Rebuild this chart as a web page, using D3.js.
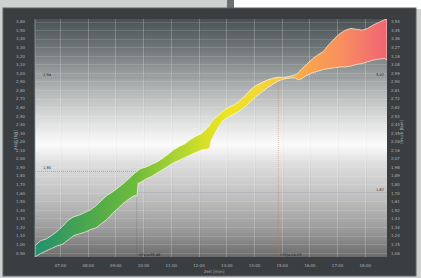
<!DOCTYPE html>
<html>
<head>
<meta charset="utf-8">
<script src="https://cdn.jsdelivr.net/npm/d3@7"></script>
<style>
  body { margin: 0; background: #cfd0d0; }
  svg { display: block; font-family: "DejaVu Sans", sans-serif; }
</style>
</head>
<body>
<div id="viz"></div>
<script>
// time in hours, band edges in kN
var times = [6.1, 6.3, 6.5, 6.7, 6.9, 7.1, 7.3, 7.5, 7.7, 7.9, 8.1, 8.3, 8.5, 8.7, 8.9,
  9.1, 9.3, 9.5, 9.7, 9.78, 9.82, 9.9, 10.1, 10.3, 10.5, 10.7, 10.9, 11.1, 11.3, 11.5,
  11.7, 11.9, 12.1, 12.3, 12.4, 12.45, 12.5, 12.7, 12.9, 13.1, 13.3, 13.5, 13.7, 13.9,
  14.1, 14.3, 14.5, 14.7, 14.9, 15.1, 15.3, 15.5, 15.6, 15.7, 15.9, 16.1, 16.3, 16.5,
  16.7, 16.9, 17.1, 17.3, 17.5, 17.7, 17.9, 18.1, 18.3, 18.5, 18.7, 18.8];
var upper = [0.98, 1.04, 1.06, 1.10, 1.15, 1.21, 1.28, 1.32, 1.34, 1.37, 1.40, 1.45, 1.51, 1.57, 1.61,
  1.66, 1.71, 1.77, 1.83, 1.85, 1.86, 1.88, 1.90, 1.93, 1.96, 2.00, 2.05, 2.10, 2.14, 2.17,
  2.22, 2.26, 2.29, 2.35, 2.39, 2.42, 2.44, 2.50, 2.56, 2.60, 2.63, 2.68, 2.74, 2.81,
  2.86, 2.89, 2.92, 2.94, 2.95, 2.95, 2.96, 2.98, 3.00, 3.04, 3.10, 3.16, 3.21, 3.25,
  3.33, 3.40, 3.46, 3.50, 3.52, 3.51, 3.50, 3.52, 3.56, 3.59, 3.62, 3.63];
var lower = [0.85, 0.89, 0.92, 0.95, 0.98, 1.00, 1.05, 1.10, 1.12, 1.14, 1.17, 1.19, 1.24, 1.29, 1.36,
  1.42, 1.48, 1.53, 1.57, 1.56, 1.71, 1.72, 1.76, 1.79, 1.83, 1.87, 1.91, 1.95, 1.98, 2.01,
  2.04, 2.07, 2.10, 2.11, 2.12, 2.21, 2.24, 2.36, 2.45, 2.49, 2.52, 2.56, 2.61, 2.67,
  2.73, 2.78, 2.83, 2.87, 2.91, 2.93, 2.94, 2.94, 2.92, 2.93, 2.97, 3.00, 3.02, 3.04,
  3.05, 3.06, 3.07, 3.07, 3.08, 3.10, 3.11, 3.13, 3.15, 3.16, 3.17, 3.15];

var hourTicks = [7, 8, 9, 10, 11, 12, 13, 14, 15, 16, 17, 18];
var hourLabels = ['07:00', '08:00', '09:00', '10:00', '11:00', '12:00', '13:00', '14:00',
  '15:00', '16:00', '17:00', '18:00'];
var leftTicks = [0.9, 1.0, 1.1, 1.2, 1.3, 1.4, 1.5, 1.6, 1.7, 1.8, 1.9, 2.0, 2.1, 2.2,
  2.3, 2.4, 2.5, 2.6, 2.7, 2.8, 2.9, 3.0, 3.1, 3.2, 3.3, 3.4, 3.5, 3.6];
var rightLabels = ['1,06', '1,15', '1,24', '1,34', '1,43', '1,52', '1,61', '1,70', '1,80',
  '1,89', '1,98', '2,07', '2,16', '2,26', '2,35', '2,44', '2,53', '2,62', '2,72', '2,81',
  '2,90', '2,99', '3,08', '3,18', '3,27', '3,36', '3,45', '3,54'];

// marker lines
var markTimes = [9.77, 14.88];
var markTimeLabels = ['t(Fs)=09:46', 't(Fr)=14:53'];
var markValues = [2.94, 1.85, 1.60];
var markLeftLabels = ['2,94', '1,85'];
var markRightLabels = ['3,02', '1,67'];

var W = 421, H = 278;
var plot = { left: 35, top: 19, right: 387, bottom: 257 };

var svg = d3.select('#viz').append('svg')
  .attr('width', W)
  .attr('height', H);

var defs = svg.append('defs');

var bg = defs.append('linearGradient').attr('id', 'bg')
  .attr('x1', 0).attr('y1', 0).attr('x2', 0).attr('y2', 1);
[[0, '#4a5254'], [0.09, '#646c6e'], [0.25, '#a0a4a5'], [0.38, '#cfd0d0'],
 [0.49, '#f1f1f1'], [0.53, '#fbfbfb'], [0.61, '#dddddd'], [0.76, '#bdbdbd'],
 [0.89, '#999999'], [1, '#6c6c6c']].forEach(function(s) {
  bg.append('stop').attr('offset', s[0]).attr('stop-color', s[1]);
});

var band = defs.append('linearGradient').attr('id', 'band')
  .attr('gradientUnits', 'userSpaceOnUse')
  .attr('x1', plot.left).attr('y1', 0).attr('x2', plot.right).attr('y2', 0);
[[0, '#23906f'], [0.156, '#4ea84c'], [0.284, '#6cbc3c'], [0.398, '#a8d434'],
 [0.483, '#d8e028'], [0.554, '#eee424'], [0.639, '#f2d838'], [0.71, '#f6c44a'],
 [0.753, '#f8aa48'], [0.866, '#f8905e'], [1, '#f06474']].forEach(function(s) {
  band.append('stop').attr('offset', s[0]).attr('stop-color', s[1]);
});

// photo surroundings + monitor frame
svg.append('rect').attr('x', 234).attr('y', 0).attr('width', 187).attr('height', 9).attr('fill', '#ffffff');
svg.append('rect').attr('x', 227).attr('y', 0).attr('width', 7).attr('height', 9).attr('fill', '#6d7073');
svg.append('rect').attr('x', 3).attr('y', 8).attr('width', 413).attr('height', 268)
  .attr('fill', '#3b3e41').attr('stroke', '#5d6063').attr('stroke-width', 1);

var x = d3.scaleLinear().domain([6.1, 18.8]).range([plot.left, plot.right]);
var y = d3.scaleLinear().domain([0.85, 3.63]).range([plot.bottom, plot.top]);

svg.append('rect')
  .attr('x', plot.left).attr('y', plot.top)
  .attr('width', plot.right - plot.left).attr('height', plot.bottom - plot.top)
  .attr('fill', 'url(#bg)');

// grid
var grid = svg.append('g');
grid.selectAll('.hg').data(leftTicks).enter().append('line')
  .attr('x1', plot.left).attr('x2', plot.right)
  .attr('y1', function(d) { return Math.round(y(d)) + 0.5; })
  .attr('y2', function(d) { return Math.round(y(d)) + 0.5; })
  .attr('stroke', '#ffffff').attr('stroke-opacity', 0.22).attr('stroke-width', 0.6);
grid.selectAll('.vg').data(hourTicks).enter().append('line')
  .attr('y1', plot.top).attr('y2', plot.bottom)
  .attr('x1', function(d) { return Math.round(x(d)) + 0.5; })
  .attr('x2', function(d) { return Math.round(x(d)) + 0.5; })
  .attr('stroke', '#ffffff').attr('stroke-opacity', 0.35).attr('stroke-width', 0.7);
grid.selectAll('.vg2').data(hourTicks).enter().append('line')
  .attr('y1', plot.top).attr('y2', plot.bottom)
  .attr('x1', function(d) { return Math.round(x(d)) + 1.2; })
  .attr('x2', function(d) { return Math.round(x(d)) + 1.2; })
  .attr('stroke', '#000000').attr('stroke-opacity', 0.06).attr('stroke-width', 0.6);

// marker lines
var marks = svg.append('g').attr('stroke-dasharray', '1,1').attr('stroke-width', 0.6)
  .attr('stroke-opacity', 0.75);
marks.append('line')
  .attr('x1', plot.left).attr('x2', plot.right)
  .attr('y1', y(markValues[0])).attr('y2', y(markValues[0]))
  .attr('stroke', '#b85a5a');
marks.append('line')
  .attr('x1', plot.left).attr('x2', x(markTimes[0]))
  .attr('y1', y(markValues[1])).attr('y2', y(markValues[1]))
  .attr('stroke', '#6a6f8a');
marks.append('line')
  .attr('x1', x(markTimes[0])).attr('x2', plot.right)
  .attr('y1', y(markValues[2])).attr('y2', y(markValues[2]))
  .attr('stroke', '#6a76b0');
marks.append('line')
  .attr('x1', x(markTimes[0])).attr('x2', x(markTimes[0]))
  .attr('y1', y(markValues[1])).attr('y2', plot.bottom)
  .attr('stroke', '#555b60');
marks.append('line')
  .attr('x1', x(markTimes[1])).attr('x2', x(markTimes[1]))
  .attr('y1', y(markValues[0])).attr('y2', plot.bottom)
  .attr('stroke', '#b87a58');

// band
var pts = times.map(function(t, i) { return { t: t, hi: upper[i], lo: lower[i] }; });
var area = d3.area()
  .x(function(d) { return x(d.t); })
  .y0(function(d) { return y(d.lo); })
  .y1(function(d) { return y(d.hi); });
svg.append('clipPath').attr('id', 'clip').append('rect')
  .attr('x', plot.left).attr('y', plot.top)
  .attr('width', plot.right - plot.left).attr('height', plot.bottom - plot.top);
svg.append('path').datum(pts)
  .attr('clip-path', 'url(#clip)')
  .attr('d', area)
  .attr('fill', 'url(#band)')
  .attr('stroke', '#fffbe8').attr('stroke-opacity', 0.85).attr('stroke-width', 0.8)
  .attr('stroke-linejoin', 'round');

// marker labels
var lbl = svg.append('g').attr('font-size', 3.6).attr('fill', '#222');
lbl.append('text').attr('x', plot.left + 8).attr('y', y(markValues[0]) - 2).text(markLeftLabels[0]);
lbl.append('text').attr('x', plot.left + 8).attr('y', y(markValues[1]) - 2).text(markLeftLabels[1]);
lbl.append('text').attr('x', plot.right - 3).attr('y', y(markValues[0]) - 2)
  .attr('text-anchor', 'end').text(markRightLabels[0]);
lbl.append('text').attr('x', plot.right - 3).attr('y', y(markValues[2]) - 2)
  .attr('text-anchor', 'end').text(markRightLabels[1]);
lbl.append('text').attr('x', x(markTimes[0]) + 2).attr('y', plot.bottom - 1.5).text(markTimeLabels[0]);
lbl.append('text').attr('x', x(markTimes[1]) + 2).attr('y', plot.bottom - 1.5).text(markTimeLabels[1]);

// axes
var comma = function(d) { return d3.format('.2f')(d).replace('.', ','); };
var yLeft = svg.append('g')
  .attr('transform', 'translate(' + plot.left + ',0)')
  .call(d3.axisLeft(y).tickValues(leftTicks).tickFormat(comma).tickSize(0).tickPadding(10));
var yRight = svg.append('g')
  .attr('transform', 'translate(' + plot.right + ',0)')
  .call(d3.axisRight(y).tickValues(leftTicks)
    .tickFormat(function(d, i) { return rightLabels[i]; }).tickSize(0).tickPadding(4));
var xAxis = svg.append('g')
  .attr('transform', 'translate(0,' + plot.bottom + ')')
  .call(d3.axisBottom(x).tickValues(hourTicks)
    .tickFormat(function(d, i) { return hourLabels[i]; }).tickSize(0).tickPadding(7));

[yLeft, yRight, xAxis].forEach(function(g) {
  g.select('.domain').remove();
  g.selectAll('text').attr('font-size', 4).attr('fill', '#aeb3b7').attr('font-family', 'DejaVu Sans');
});
svg.append('line')
  .attr('x1', plot.left).attr('x2', plot.left)
  .attr('y1', plot.top).attr('y2', plot.bottom)
  .attr('stroke', '#9aa0a4').attr('stroke-width', 0.7);

// axis titles
svg.append('text')
  .attr('transform', 'translate(17,140) rotate(-90)')
  .attr('text-anchor', 'middle').attr('font-size', 4.2).attr('fill', '#a8adb1')
  .text('Kraft [kN]');
svg.append('text')
  .attr('transform', 'translate(403,132) rotate(-90)')
  .attr('text-anchor', 'middle').attr('font-size', 4.2).attr('fill', '#a8adb1')
  .text('Druck [bar]');
svg.append('text')
  .attr('x', 214).attr('y', 273)
  .attr('text-anchor', 'middle').attr('font-size', 4.2).attr('fill', '#a8adb1')
  .text('Zeit [min]');
</script>
</body>
</html>
